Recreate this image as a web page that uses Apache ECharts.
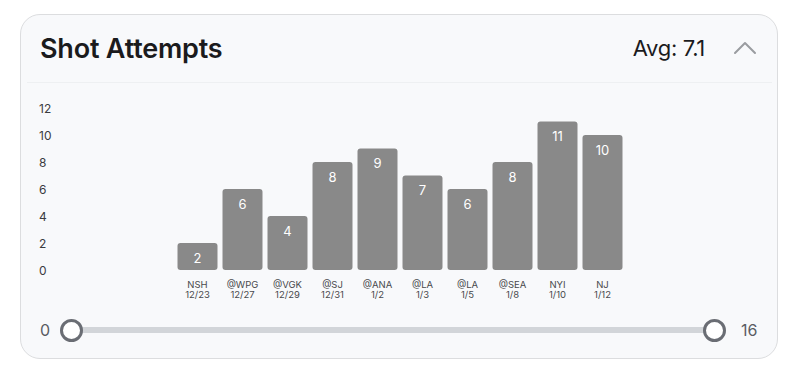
<!DOCTYPE html>
<html>
<head>
<meta charset="utf-8">
<script src="https://cdn.jsdelivr.net/npm/echarts@6/dist/echarts.min.js"></script>
<style>
  html,body{margin:0;padding:0;background:#ffffff;width:802px;height:376px;overflow:hidden;font-family:Inter,"Noto Sans",sans-serif;}
  #card{position:absolute;left:20px;top:14px;width:756px;height:343px;border:1.5px solid #dcdddf;border-radius:20px;background:#f8f9fb;box-sizing:content-box;}
  #title{position:absolute;left:40px;top:32px;font-size:27px;font-weight:600;color:#1b1b1d;letter-spacing:-0.2px;white-space:nowrap;}
  #avg{position:absolute;right:97px;top:35px;font-size:22px;font-weight:400;color:#1b1b1d;letter-spacing:-0.3px;white-space:nowrap;}
  #chev{position:absolute;left:732px;top:40px;}
  #sep{position:absolute;left:27px;top:82px;width:745px;height:1px;background:#eef0f2;}
  #chart{position:absolute;left:0;top:0;width:802px;height:376px;}
  .sl-lbl{position:absolute;font-size:16px;color:#5a5d63;top:320px;}
  #track{position:absolute;left:72px;top:327px;width:642px;height:6px;background:#d2d5d9;border-radius:3px;}
  .handle{position:absolute;width:17px;height:17px;border:3px solid #6a6d74;border-radius:50%;background:#fff;top:319px;}
</style>
</head>
<body>
<div id="card"></div>
<div id="title">Shot Attempts</div>
<div id="avg"></div>
<svg id="chev" width="26" height="16" viewBox="0 0 26 16"><polyline points="3,13 13,3 23,13" fill="none" stroke="#9a9ca0" stroke-width="2" stroke-linecap="round" stroke-linejoin="round"/></svg>
<div id="sep"></div>
<div id="track"></div>
<div class="sl-lbl" id="slMin" style="left:40px;"></div>
<div class="sl-lbl" id="slMax" style="left:741px;"></div>
<div class="handle" style="left:60px;"></div>
<div class="handle" style="left:703px;"></div>
<div id="chart"></div>
<script>
const opponents = ['NSH','@WPG','@VGK','@SJ','@ANA','@LA','@LA','@SEA','NYI','NJ'];
const dates = ['12/23','12/27','12/29','12/31','1/2','1/3','1/5','1/8','1/10','1/12'];
const shotAttempts = [2,6,4,8,9,7,6,8,11,10];
const yMin = 0, yMax = 12, yInterval = 2;
const sliderMin = 0, sliderMax = 16;

const avg = shotAttempts.reduce((a,b)=>a+b,0)/shotAttempts.length;
document.getElementById('avg').textContent = 'Avg: ' + avg.toFixed(1);
document.getElementById('slMin').textContent = String(sliderMin);
document.getElementById('slMax').textContent = String(sliderMax);

const categories = opponents.map((o,i)=>o + '\n' + dates[i]);

const chart = echarts.init(document.getElementById('chart'), null, {renderer:'svg'});
chart.setOption({
  animation:false,
  backgroundColor:'transparent',
  grid:{left:175,right:177,top:108,bottom:106,containLabel:false},
  xAxis:{
    type:'category',
    data:categories,
    axisLine:{show:false},
    axisTick:{show:false},
    axisLabel:{color:'#48494d',fontSize:9.5,lineHeight:10,margin:9,fontFamily:'Inter'}
  },
  yAxis:{
    type:'value',
    min:yMin,max:yMax,interval:yInterval,
    axisLine:{show:false},
    axisTick:{show:false},
    splitLine:{show:false},
    axisLabel:{color:'#3a3b3f',fontSize:12,align:'left',margin:136,fontFamily:'Inter'}
  },
  series:[{
    type:'bar',
    data:shotAttempts,
    barWidth:40,
    itemStyle:{color:'#898989',borderRadius:3},
    label:{show:true,position:'insideTop',distance:8,color:'#ffffff',fontSize:13,fontFamily:'Inter'}
  }]
});
</script>
</body>
</html>
